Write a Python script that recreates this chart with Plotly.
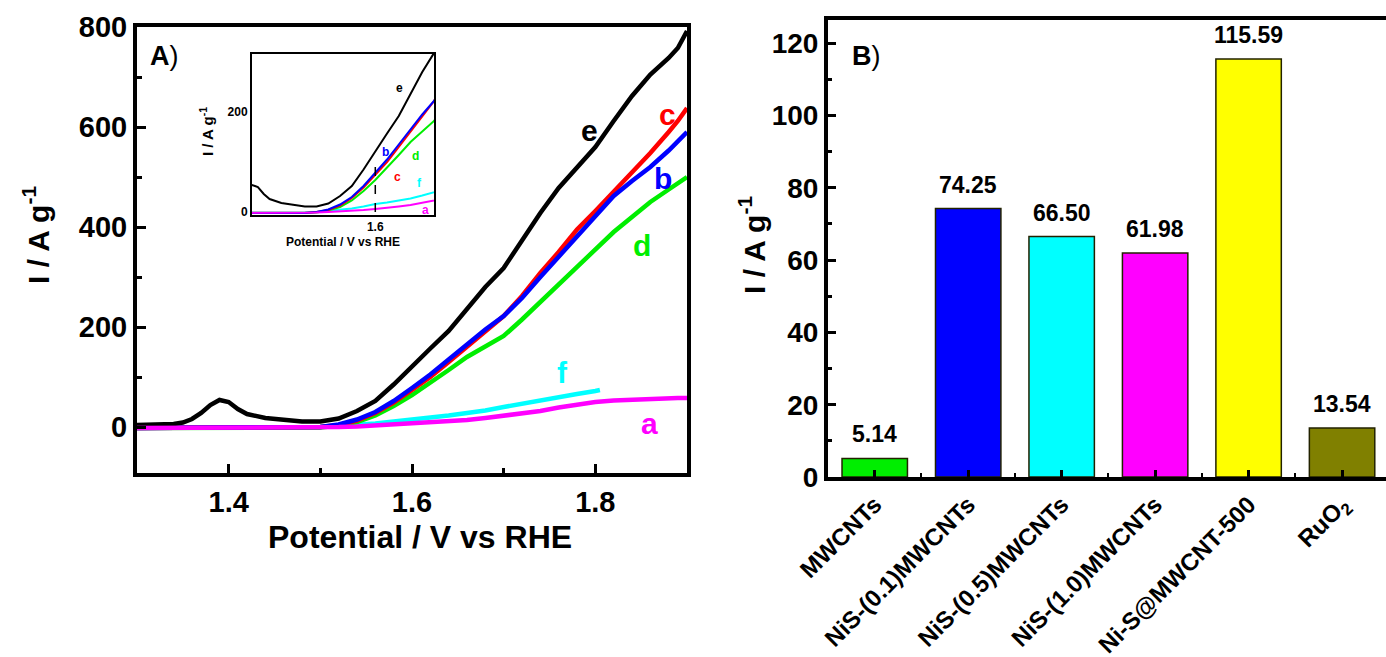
import plotly.graph_objects as go

# ---------------- Panel A data ----------------
potential = [1.30, 1.32, 1.34, 1.35, 1.36, 1.37, 1.38, 1.39, 1.40, 1.41, 1.42, 1.44, 1.46, 1.48,
             1.50, 1.52, 1.54, 1.56, 1.58, 1.60, 1.62, 1.64, 1.66, 1.68, 1.70, 1.72, 1.74, 1.76,
             1.78, 1.80, 1.82, 1.84, 1.86, 1.88, 1.89, 1.90]
curve_e = [4, 4, 6, 9, 16, 28, 44, 54, 50, 36, 26, 18, 14, 11,
           11, 17, 32, 52, 85, 122, 157, 192, 236, 280, 318, 372, 428, 478,
           520, 560, 612, 662, 705, 738, 758, 792]
curve_b = [-2, -2, -2, -2, -2, -2, -2, -2, -2, -2, -2, -2, -2, -2,
           0, 5, 15, 30, 52, 78, 105, 135, 165, 195, 222, 258, 300, 340,
           380, 420, 462, 492, 520, 553, 570, 590]
curve_c = [-2, -2, -2, -2, -2, -2, -2, -2, -2, -2, -2, -2, -2, -2,
           0, 4, 13, 28, 49, 74, 100, 130, 160, 192, 222, 262, 308, 350,
           395, 432, 470, 507, 548, 590, 612, 638]
curve_d = [-2, -2, -2, -2, -2, -2, -2, -2, -2, -2, -2, -2, -2, -2,
           -1, 3, 10, 23, 42, 64, 88, 114, 140, 162, 182, 215, 250, 285,
           320, 355, 390, 420, 450, 475, 488, 500]
curve_a = [-2, -2, -2, -2, -2, -2, -2, -2, -2, -2, -2, -2, -2, -2,
           -1, 0, 1, 3, 4, 6, 8, 11, 14, 18, 22, 27, 32, 39,
           45, 50, 53, 55, 57, 58, 58, 58]
potential_f = [1.30, 1.40, 1.48, 1.50, 1.52, 1.54, 1.56, 1.58, 1.60, 1.62, 1.64, 1.66, 1.68,
               1.70, 1.72, 1.74, 1.76, 1.78, 1.80, 1.805]
curve_f = [-2, -2, -1, 0, 2, 4, 7, 11, 16, 19, 23, 27, 33, 40, 47, 54, 60, 66, 72, 74]

curve_names = ["f", "d", "c", "b", "e", "a"]
curve_colors = {"a": "#FF00FF", "b": "#0000FF", "c": "#FF0000", "d": "#00EE00",
                "e": "#000000", "f": "#00FFFF"}

# label positions (potential, current) main and inset
main_label_pos = {"e": (1.794, 594), "c": (1.879, 626), "b": (1.874, 498),
                  "d": (1.851, 364), "f": (1.764, 110), "a": (1.859, 8)}
inset_label_pos = {"e": (1.642, 248), "b": (1.617, 120), "d": (1.669, 112),
                   "c": (1.637, 70), "f": (1.676, 58), "a": (1.685, 4)}
inset_marker_potential = 1.6
inset_marker_top = 108

# ---------------- Panel B data ----------------
categories = ["MWCNTs", "NiS-(0.1)MWCNTs", "NiS-(0.5)MWCNTs", "NiS-(1.0)MWCNTs",
              "Ni-S@MWCNT-500", "RuO<sub>2</sub>"]
bar_values = [5.14, 74.25, 66.50, 61.98, 115.59, 13.54]
bar_colors = ["#00EE00", "#0000FF", "#00FFFF", "#FF00FF", "#FFFF00", "#808000"]

W, H = 1386, 657
FONT = "Liberation Sans, Arial, sans-serif"

series = {"a": (potential, curve_a), "b": (potential, curve_b), "c": (potential, curve_c),
          "d": (potential, curve_d), "e": (potential, curve_e), "f": (potential_f, curve_f)}

fig = go.Figure()
for name in curve_names:
    xs, ys = series[name]
    fig.add_trace(go.Scatter(x=xs, y=ys, mode="lines", xaxis="x", yaxis="y",
                             line=dict(color=curve_colors[name], width=4.5),
                             hoverinfo="skip"))
for name in curve_names:
    xs, ys = series[name]
    fig.add_trace(go.Scatter(x=xs, y=ys, mode="lines", xaxis="x3", yaxis="y3",
                             line=dict(color=curve_colors[name], width=2),
                             hoverinfo="skip"))
fig.add_trace(go.Scatter(x=[inset_marker_potential, inset_marker_potential],
                         y=[0, inset_marker_top], mode="lines", xaxis="x3", yaxis="y3",
                         line=dict(color="black", width=1.5, dash="dash"), hoverinfo="skip"))

bar_x = list(range(len(categories)))
fig.add_trace(go.Bar(x=bar_x, y=bar_values, xaxis="x2", yaxis="y2",
                     marker=dict(color=bar_colors, line=dict(color="#222200", width=1.5)),
                     width=0.7, hoverinfo="skip"))


def bold(s):
    return dict(size=s, color="black", family=FONT, weight="bold")


fig.update_layout(
    width=W, height=H, margin=dict(l=0, r=0, t=0, b=0, autoexpand=False),
    paper_bgcolor="white", plot_bgcolor="white", showlegend=False,
    font=dict(family=FONT, color="black"),
    xaxis=dict(domain=[137 / W, 687 / W], range=[1.3, 1.9], anchor="y",
               showline=True, linewidth=4, linecolor="black", mirror=True,
               showgrid=False, zeroline=False, ticks="inside", ticklen=9, tickwidth=3,
               tickcolor="black", tickvals=[1.4, 1.6, 1.8], ticktext=["1.4", "1.6", "1.8"],
               minor=dict(tickvals=[1.5, 1.7], ticks="inside", ticklen=5, tickwidth=3,
                          tickcolor="black"),
               tickfont=bold(29)),
    yaxis=dict(domain=[(H - 473) / H, (H - 27) / H], range=[-92, 800], anchor="x",
               showline=True, linewidth=4, linecolor="black", mirror=True,
               showgrid=False, zeroline=False, ticks="inside", ticklen=9, tickwidth=3,
               tickcolor="black", tickvals=[0, 200, 400, 600, 800],
               minor=dict(tickvals=[100, 300, 500, 700], ticks="inside", ticklen=5,
                          tickwidth=3, tickcolor="black"),
               tickfont=bold(29)),
    xaxis3=dict(domain=[252 / W, 434 / W], range=[1.39, 1.70], anchor="y3",
                showline=True, linewidth=2, linecolor="black", mirror=True,
                showgrid=False, zeroline=False, ticks="", tickvals=[1.6], ticktext=["1.6"],
                ticklabelstandoff=0, tickfont=bold(12)),
    yaxis3=dict(domain=[(H - 215) / H, (H - 54) / H], range=[-6, 316], anchor="x3",
                showline=True, linewidth=2, linecolor="black", mirror=True,
                showgrid=False, zeroline=False, ticks="", tickvals=[0, 200],
                tickfont=bold(12)),
    xaxis2=dict(domain=[828 / W, 1.0], range=[-0.5, 5.47], anchor="y2",
                showline=True, linewidth=4, linecolor="black", mirror=True,
                showgrid=False, zeroline=False, ticks="inside", ticklen=7, tickwidth=3,
                tickcolor="black", tickvals=bar_x,
                ticktext=categories, tickangle=-45,
                minor=dict(tickvals=[0.5, 1.5, 2.5, 3.5, 4.5], ticks="inside", ticklen=4,
                           tickwidth=2, tickcolor="black"),
                tickfont=bold(24)),
    yaxis2=dict(domain=[(H - 477) / H, (H - 20) / H], range=[0, 126.4], anchor="x2",
                showline=True, linewidth=4, linecolor="black", mirror=False,
                showgrid=False, zeroline=False, ticks="inside", ticklen=8, tickwidth=3,
                tickcolor="black", tickvals=[0, 20, 40, 60, 80, 100, 120],
                minor=dict(tickvals=[10, 30, 50, 70, 90, 110], ticks="inside", ticklen=4,
                           tickwidth=3, tickcolor="black"),
                tickfont=bold(28)),
)

ann = []
for name, (px_, py_) in main_label_pos.items():
    ann.append(dict(x=px_, y=py_, xref="x", yref="y", text=f"<b>{name}</b>", showarrow=False,
                    xanchor="center", yanchor="middle",
                    font=dict(size=30, color=curve_colors[name], family=FONT)))
for name, (px_, py_) in inset_label_pos.items():
    ann.append(dict(x=px_, y=py_, xref="x3", yref="y3", text=f"<b>{name}</b>", showarrow=False,
                    xanchor="center", yanchor="middle",
                    font=dict(size=12, color=curve_colors[name], family=FONT)))
for xv, v in zip(bar_x, bar_values):
    ann.append(dict(x=xv, y=v, xref="x2", yref="y2", text=f"<b>{v:.2f}</b>", showarrow=False,
                    xanchor="center", yanchor="bottom", yshift=9, font=bold(23)))


def pann(x, y, text, size, angle=0, xanchor="center"):
    return dict(x=x / W, y=(H - y) / H, xref="paper", yref="paper", text=text,
                showarrow=False, xanchor=xanchor, yanchor="middle", textangle=angle,
                font=dict(size=size, color="black", family=FONT))


ann += [
    pann(148, 56, "<b>A</b>)", 27, xanchor="left"),
    pann(850, 56, "<b>B</b>)", 27, xanchor="left"),
    pann(420, 537, "<b>Potential / V vs RHE</b>", 32),
    pann(36, 235, "<b>I / A g<sup>-1</sup></b>", 30, angle=-90),
    pann(752, 245, "<b>I / A g<sup>-1</sup></b>", 30, angle=-90),
    pann(343, 242, "<b>Potential / V vs RHE</b>", 12),
    pann(206, 132, "<b>I / A g<sup>-1</sup></b>", 15, angle=-90),
]
fig.update_layout(annotations=ann)

fig.write_html("out.html")
